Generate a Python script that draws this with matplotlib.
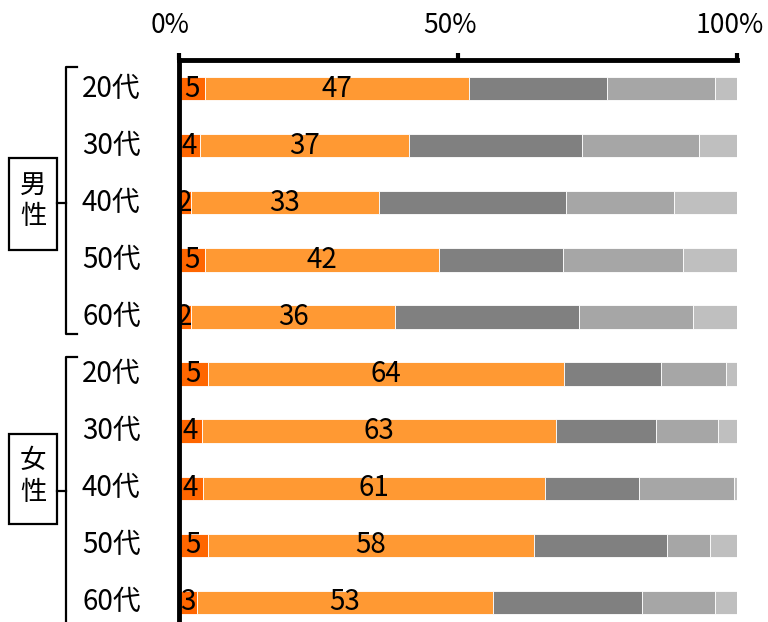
import numpy as np
import matplotlib.pyplot as plt
import matplotlib.transforms as mtransforms

plt.rcParams['font.family'] = ['Noto Sans CJK JP', 'DejaVu Sans']

# data (%)
ages = ['20代', '30代', '40代', '50代', '60代', '20代', '30代', '40代', '50代', '60代']
seg1 = [4.7, 3.9, 2.2, 4.7, 2.2, 5.2, 4.2, 4.3, 5.2, 3.3]
seg2 = [47.2, 37.3, 33.7, 41.9, 36.6, 63.7, 63.3, 61.2, 58.4, 53.0]
seg3 = [24.8, 31.0, 33.4, 22.2, 32.9, 17.5, 18.0, 16.9, 23.8, 26.7]
seg4 = [19.3, 20.9, 19.4, 21.4, 20.4, 11.6, 11.1, 17.0, 7.7, 13.0]
seg5 = [4.0, 6.9, 11.3, 9.8, 7.9, 2.0, 3.4, 0.6, 4.9, 4.0]
lab1 = [5, 4, 2, 5, 2, 5, 4, 4, 5, 3]
lab2 = [47, 37, 33, 42, 36, 64, 63, 61, 58, 53]

colors = ['#FF6600', '#FF9933', '#808080', '#A6A6A6', '#BFBFBF']

fig = plt.figure(figsize=(7.68, 6.22), dpi=100)
W, H = 768, 622
x0, x1 = 178.5, 737.3
ytop = 60
ax = fig.add_axes([x0 / W, 0, (x1 - x0) / W, (H - ytop) / H])

y = np.arange(len(ages))
left = np.zeros(len(ages))
for vals, c in zip([seg1, seg2, seg3, seg4, seg5], colors):
    ax.barh(y, vals, left=left, height=0.41, color=c, edgecolor='white', linewidth=0.6)
    left += np.array(vals)

# numbers inside the orange bars
for i in range(len(ages)):
    ax.text(seg1[i] / 2, y[i], str(lab1[i]), ha='center', va='center', fontsize=20)
    ax.text(seg1[i] + seg2[i] / 2, y[i], str(lab2[i]), ha='center', va='center', fontsize=20)

ax.set_xlim(0, 100)
row_px = 57.1
ax.set_ylim(-0.5 + (H - ytop) / row_px, -0.5)

ax.xaxis.tick_top()
ax.set_xticks([0, 50, 100])
ax.set_xticklabels(['0%', '50%', '100%'])
ax.tick_params(axis='x', direction='out', length=5, width=3, labelsize=19, pad=10)
shift = mtransforms.ScaledTranslation(-8 / 100, 0, fig.dpi_scale_trans)
for lbl in ax.get_xticklabels():
    lbl.set_transform(lbl.get_transform() + shift)
ax.set_yticks([])
for s in ['right', 'bottom']:
    ax.spines[s].set_visible(False)
for s in ['top', 'left']:
    ax.spines[s].set_linewidth(3.5)

# age labels on the left
tr = ax.get_yaxis_transform()
lx = (82 - x0) / (x1 - x0)
for i, a in enumerate(ages):
    ax.text(lx, y[i], a, transform=tr, ha='left', va='center', fontsize=20, clip_on=False)


def px(xp):
    return (xp - x0) / (x1 - x0)


# group brackets and boxes
def group(top, bottom, mid, box_top, box_bot, chars, char_y):
    bx = px(66)
    hx = px(77)
    ax.plot([hx, bx, bx, hx], [top, top, bottom, bottom], transform=tr, color='black',
            lw=1.6, clip_on=False, solid_joinstyle='round')
    ax.plot([px(57), bx], [mid, mid], transform=tr, color='black', lw=1.6, clip_on=False)
    ax.add_patch(plt.Rectangle((px(9), box_top), px(57) - px(9), box_bot - box_top,
                               transform=tr, fill=False, edgecolor='black', lw=1.6, clip_on=False))
    for ch, cy in zip(chars, char_y):
        ax.text(px(33), cy, ch, transform=tr, ha='center', va='center', fontsize=19, clip_on=False)


group(-0.376, 4.3, 2.0, 1.22, 2.83, ['男', '性'], [1.69, 2.24])
group(4.7, 9.6, 7.04, 6.05, 7.63, ['女', '性'], [6.52, 7.08])

fig.savefig('out.png', dpi=100)
